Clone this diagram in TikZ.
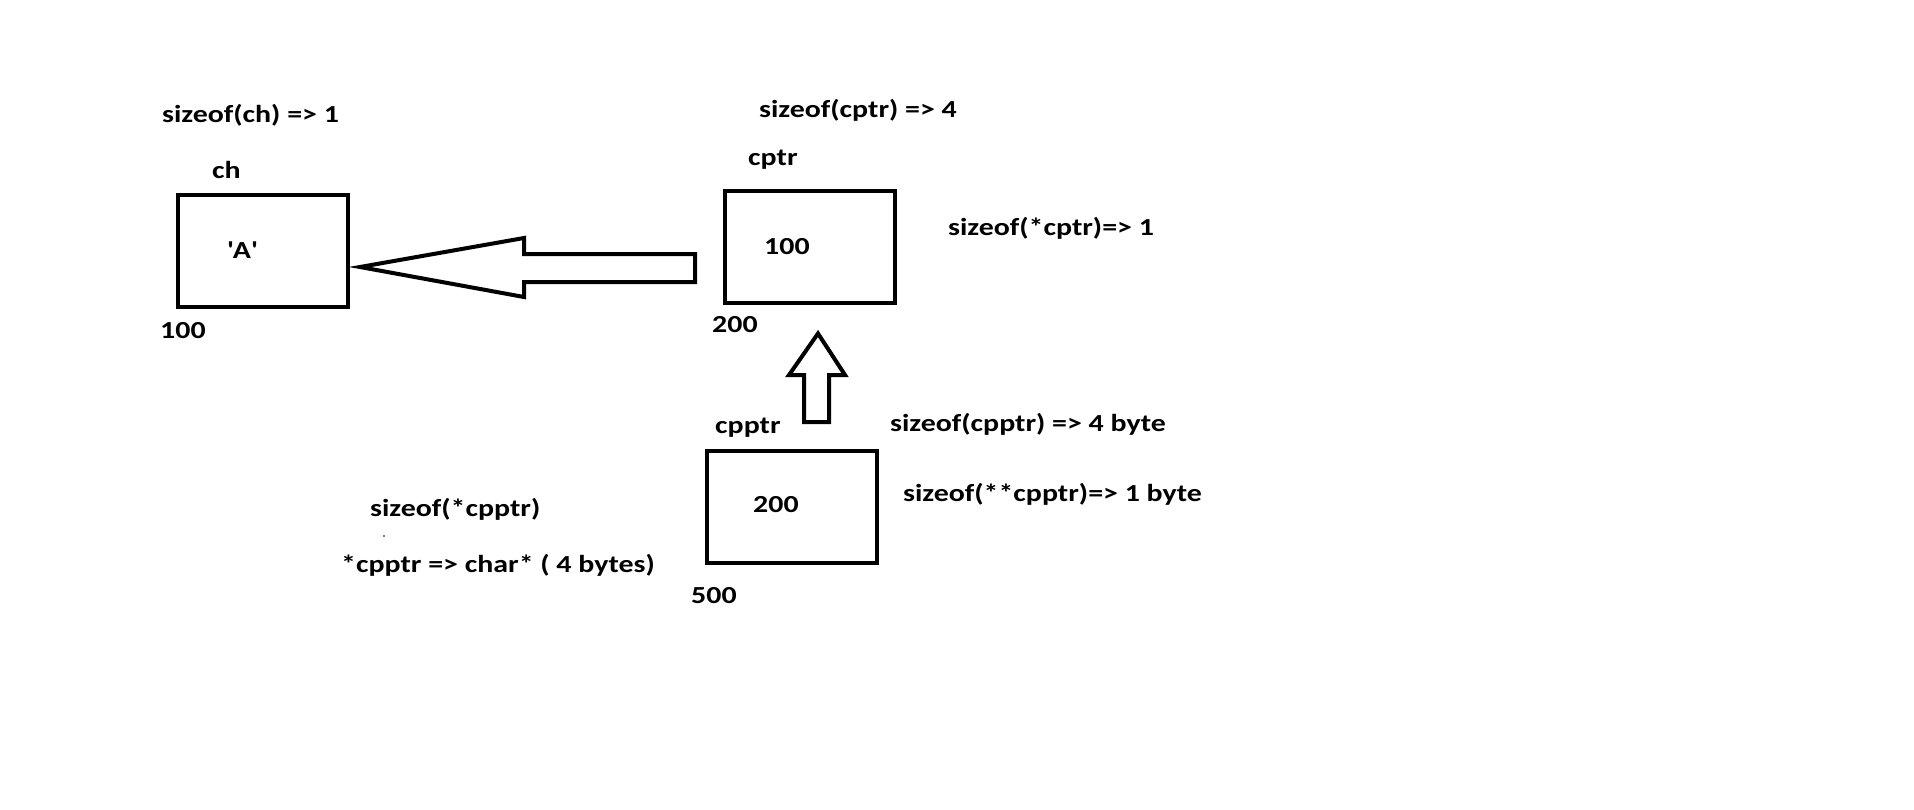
\documentclass[tikz,border=0pt]{standalone}
\usepackage{fontspec}
\setmainfont{Carlito}[FakeStretch=1.22]
\usepackage{tikz}
\usetikzlibrary{calc}
\definecolor{cellink}{RGB}{0,0,0}
\newcommand{\memtext}[3]{%
  \node[memtxt] (#1) at (#2) {#3};%
}

\begin{document}
\begin{tikzpicture}[x=1pt,y=-1pt,
  memcell/.style={draw=cellink,line width=4pt,minimum width=170pt,minimum height=112pt,inner sep=0pt},
  memtxt/.style={anchor=west,inner sep=0pt,font=\fontsize{24.5}{28}\selectfont\bfseries},
  fatarrow/.style={draw=cellink,line width=4pt,line join=miter}]
  \useasboundingbox (0,0) rectangle (1914,809);
  % the three cells
  \node[memcell] (chbox) at (263,251) {};
  \node[memcell] (cptrbox) at (810,246.5) {};
  \node[memcell] (cpptrbox) at (792,507) {};
  % ch
  \memtext{chsize}{162,115}{sizeof(ch) => 1}
  \memtext{chname}{212,170}{ch}
  \memtext{chval}{227,250}{\textquotesingle A\textquotesingle}
  \memtext{chaddr}{160,331}{100}
  % cptr
  \memtext{cptrsize}{759,110}{sizeof(cptr) => 4}
  \memtext{cptrname}{748,160}{cptr}
  \memtext{cptrval}{764,247}{100}
  \memtext{cptrderef}{948,228}{sizeof(*cptr)=> 1}
  \memtext{cptraddr}{712,325}{200}
  % cpptr
  \memtext{cpptrname}{715,428}{cpptr}
  \memtext{cpptrsize}{890,424}{sizeof(cpptr) => 4 byte}
  \memtext{cpptrval}{753,505}{200}
  \memtext{cpptrderefb}{903,494}{sizeof(**cpptr)=> 1 byte}
  \memtext{cpptraddr}{691,596}{500}
  \memtext{cpptrderefa}{370,509}{sizeof(*cpptr)}
  \memtext{cpptrtype}{341,565}{*cpptr => char* ( 4 bytes)}
  \fill[cellink] (384,536) circle (0.9);
  % block arrows
  \coordinate (lefttip) at ($(chbox.east)+(10,16)$);
  \draw[fatarrow] (lefttip) -- (524,238) -- (524,254) -- (695,254)
    -- (695,282) -- (524,282) -- (524,297) -- cycle;
  \coordinate (uptip) at ($(cptrbox.south)+(8,29)$);
  \draw[fatarrow] (uptip) -- (845,375) -- (829,375) -- (829,422)
    -- (804,422) -- (804,375) -- (789,375) -- cycle;
\end{tikzpicture}
\end{document}
